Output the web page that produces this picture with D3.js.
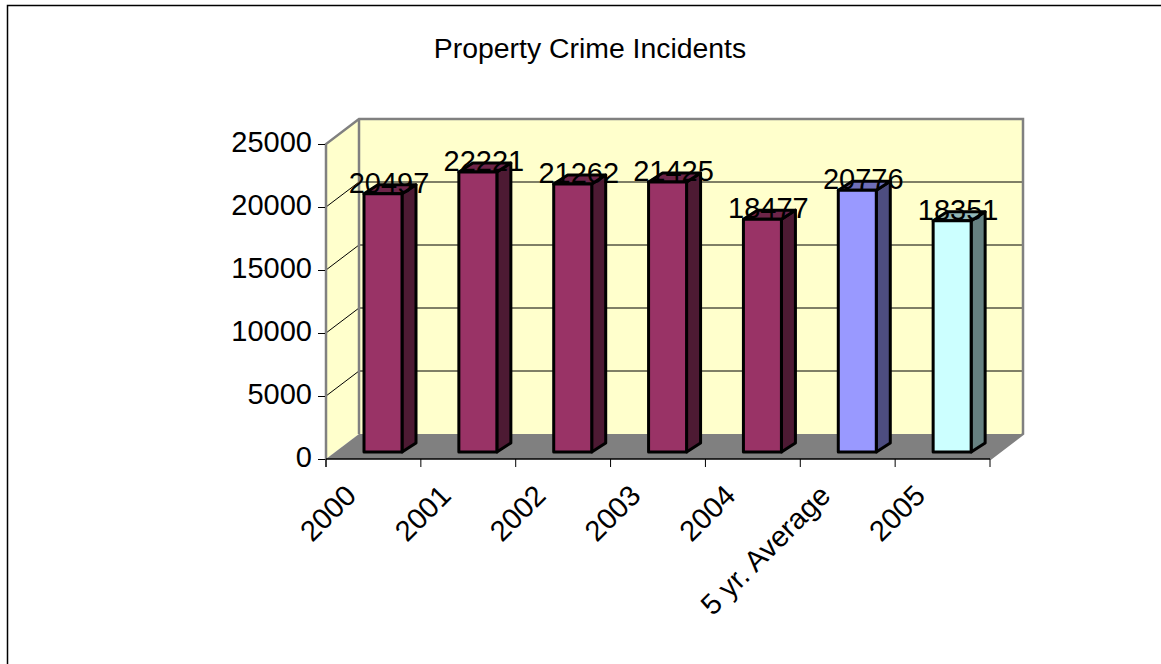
<!DOCTYPE html>
<html><head><meta charset="utf-8">
<script src="https://cdn.jsdelivr.net/npm/d3@7/dist/d3.min.js"></script>
<style>html,body{margin:0;padding:0;background:#fff}svg{display:block}text{font-family:"Liberation Sans",Arial,sans-serif;fill:#000}</style>
</head><body><svg id="c" width="1161" height="664"></svg>
<script>
const categories=["2000","2001","2002","2003","2004","5 yr. Average","2005"];
const values=[20497,22221,21262,21425,18477,20776,18351];
const frontColors=["#993366","#993366","#993366","#993366","#993366","#9999ff","#ccffff"];
const yTicks=[0,5000,10000,15000,20000,25000];
const title="Property Crime Incidents";

const svg=d3.select("#c");
const X0=326,X1=990,Y0=459,Y1=144,DX=33,DY=-25;
const x=d3.scaleBand().domain(categories).range([X0,X1]);
const y=d3.scaleLinear().domain([0,25000]).range([Y0,Y1]);
const poly=(pts,fill,stroke,sw)=>svg.append("path").attr("d","M"+pts.map(p=>p.join(",")).join("L")+"Z")
  .attr("fill",fill).attr("stroke",stroke||"none").attr("stroke-width",sw||0);

// frame: only the left and top edges fall inside the picture
svg.append("path").attr("d","M7.5,664V5.5H1161").attr("fill","none").attr("stroke","#000").attr("stroke-width",1.5);

// walls
poly([[X0,Y0],[X0+DX,Y0+DY],[X0+DX,Y1+DY],[X0,Y1]],"#ffffcc");
poly([[X0+DX,Y0+DY],[X1+DX,Y0+DY],[X1+DX,Y1+DY],[X0+DX,Y1+DY]],"#ffffcc");
poly([[X0,Y0],[X1,Y0],[X1+DX,Y0+DY],[X0+DX,Y0+DY]],"#808080");
// gridlines
yTicks.slice(1,-1).forEach(t=>{
  svg.append("path").attr("d",`M${X0},${y(t)}L${X0+DX},${y(t)+DY}H${X1+DX}`).attr("fill","none").attr("stroke","#000").attr("stroke-width",1);
});
// wall edges
svg.append("path").attr("d",`M${X0},${Y0}V${Y1}L${X0+DX},${Y1+DY}H${X1+DX}V${Y0+DY}L${X1},${Y0}`)
  .attr("fill","none").attr("stroke","#808080").attr("stroke-width",2.5);
svg.append("path").attr("d",`M${X0+DX},${Y0+DY}V${Y1+DY}`).attr("fill","none").attr("stroke","#808080").attr("stroke-width",2.5);

// axes
const gy=svg.append("g").attr("transform",`translate(${X0},0)`)
  .call(d3.axisLeft(y).tickValues(yTicks).tickFormat(d3.format("d")).tickSize(8).tickPadding(6));
gy.selectAll("path").remove();
gy.selectAll("line").attr("stroke","#000");
gy.selectAll("text").attr("font-size",29).attr("font-family",'"Liberation Sans"').attr("fill","#000").attr("dy","0.26em");
svg.append("line").attr("x1",X0).attr("x2",X0).attr("y1",Y1).attr("y2",Y0+8).attr("stroke","#808080").attr("stroke-width",2);
svg.append("line").attr("x1",X0).attr("x2",X1).attr("y1",Y0).attr("y2",Y0).attr("stroke","#000").attr("stroke-width",1.5);
[...categories.map(c=>x(c)),X1].forEach(t=>svg.append("line").attr("x1",t).attr("x2",t).attr("y1",Y0).attr("y2",Y0+8).attr("stroke","#000"));

// bars
const barW=38,shiftX=38,BD=14,BH=-9,baseShift=-7;
const scaleColor=(c,k)=>{const r=d3.rgb(c);return d3.rgb(r.r*k,r.g*k,r.b*k).formatHex();};
categories.forEach((c,i)=>{
  const l=x(c)+shiftX,r=l+barW,b=y(0)+baseShift,t=y(values[i])+baseShift;
  poly([[r,t],[r+BD,t+BH],[r+BD,b+BH],[r,b]],scaleColor(frontColors[i],0.5),"#000",3).attr("stroke-linejoin","round");
  poly([[l,t],[l+BD,t+BH],[r+BD,t+BH],[r,t]],scaleColor(frontColors[i],0.72),"#000",3).attr("stroke-linejoin","round");
  poly([[l,t],[r,t],[r,b],[l,b]],frontColors[i],"#000",3).attr("stroke-linejoin","round");
});
categories.forEach((c,i)=>{
  const l=x(c)+shiftX,t=y(values[i])+baseShift;
  svg.append("text").attr("x",l+barW/2+6).attr("y",t-1).attr("text-anchor","middle").attr("font-size",29).text(values[i]);
});

// category labels
categories.forEach(c=>{
  const tx=x(c)+x.bandwidth()/2-30, ty=Y0+24;
  svg.append("text").attr("transform",`translate(${tx},${ty}) rotate(-45)`).attr("text-anchor","end")
    .attr("dy","0.7em").attr("font-size",29).text(c);
});
svg.append("text").attr("x",590).attr("y",58).attr("text-anchor","middle").attr("font-size",28.4).text(title);
</script></body></html>
